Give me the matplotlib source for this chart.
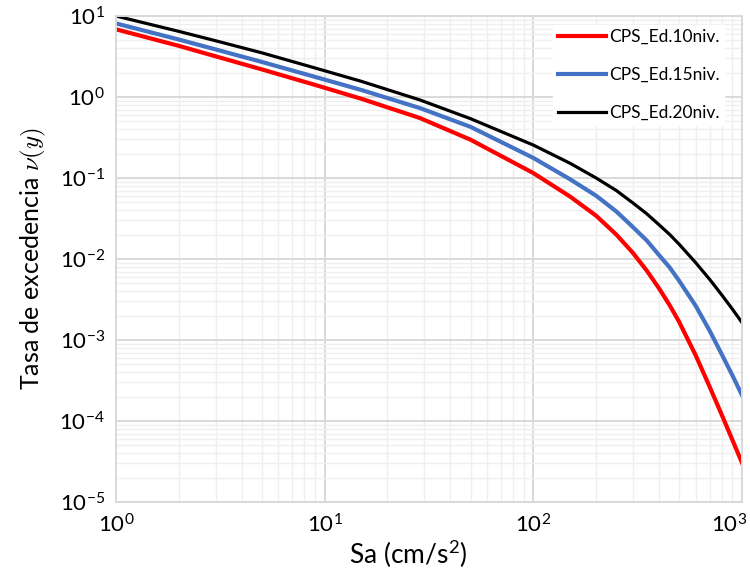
import matplotlib.pyplot as plt
import matplotlib.ticker as mticker
import numpy as np

plt.rcParams["font.family"] = ["Lato", "DejaVu Sans"]
plt.rcParams["mathtext.fontset"] = "cm"

# Sa (cm/s2) and exceedance rates
sa = [1, 2, 3, 5, 9, 15, 28.6, 50, 100, 150, 200, 250, 300, 350, 400, 450, 500,
      600, 700, 800, 900, 1000]
ed10 = [6.85, 4.28, 3.18, 2.19, 1.41, 0.95, 0.55, 0.297, 0.115, 0.059, 0.0342,
        0.020, 0.0119, 0.00716, 0.00435, 0.00269, 0.00167, 0.000646, 0.000264,
        0.000119, 5.81e-5, 3.05e-5]
ed15 = [8.1, 5.12, 3.87, 2.71, 1.77, 1.22, 0.73, 0.428, 0.177, 0.0964, 0.0604,
        0.0386, 0.0248, 0.01686, 0.0112, 0.00787, 0.00537, 0.00264, 0.0013,
        0.000665, 0.000365, 0.000208]
ed20 = [10.0, 6.46, 4.95, 3.51, 2.28, 1.56, 0.92, 0.54, 0.255, 0.152, 0.100,
        0.070, 0.0492, 0.0361, 0.0265, 0.0201, 0.0152, 0.0090, 0.0056, 0.0036,
        0.0024, 0.00164]
labels = ["CPS_Ed.10niv.", "CPS_Ed.15niv.", "CPS_Ed.20niv."]

fig = plt.figure(figsize=(7.5, 5.79), dpi=100)
ax = fig.add_axes([116 / 750, 1 - 502 / 579, (742 - 116) / 750, (502 - 16) / 579])

ax.plot(sa, ed10, color="#ff0000", lw=3.0, label=labels[0])
ax.plot(sa, ed15, color="#4472c4", lw=3.0, label=labels[1])
ax.plot(sa, ed20, color="black", lw=2.3, label=labels[2])

ax.set_xscale("log")
ax.set_yscale("log")
ax.set_xlim(1, 1000)
ax.set_ylim(1e-5, 10)

ax.xaxis.set_minor_locator(mticker.LogLocator(subs=np.arange(2, 10)))
ax.yaxis.set_minor_locator(mticker.LogLocator(subs=np.arange(2, 10), numticks=20))
ax.yaxis.set_major_locator(mticker.LogLocator(numticks=20))
ax.xaxis.set_minor_formatter(mticker.NullFormatter())
ax.yaxis.set_minor_formatter(mticker.NullFormatter())


def xfmt(v, pos):
    # the last label is drawn separately so that it is not cut at the edge
    if v >= 999:
        return ""
    return r"$\mathdefault{10^{%d}}$" % round(np.log10(v))


ax.xaxis.set_major_formatter(mticker.FuncFormatter(xfmt))

ax.grid(which="major", color="#d9d9d9", lw=1.4)
ax.grid(which="minor", color="#efefef", lw=1.0)
ax.set_axisbelow(True)
for s in ax.spines.values():
    s.set_color("#d9d9d9")
    s.set_linewidth(1.4)
ax.tick_params(which="both", length=0, labelsize=16, pad=8)

ax.annotate(r"$\mathdefault{10^{3}}$", xy=(1000, 0), xycoords=("data", "axes fraction"),
            xytext=(-9, -8), textcoords="offset points", ha="center", va="top",
            fontsize=16, annotation_clip=False)

ax.set_xlabel(r"Sa (cm/s$\mathregular{^2}$)", fontsize=19)
ax.xaxis.set_label_coords(0.466, -0.075)
ax.set_ylabel(r"Tasa de excedencia $\nu(y)$", fontsize=18, labelpad=8)

leg = ax.legend(loc="upper right", bbox_to_anchor=(0.985, 1.0), fontsize=12.5,
                frameon=True, fancybox=False, framealpha=1, facecolor="white",
                edgecolor="white", labelspacing=1.26, handlelength=2.8,
                handletextpad=0.15, borderpad=0.25)

fig.savefig("out.png", dpi=100)
